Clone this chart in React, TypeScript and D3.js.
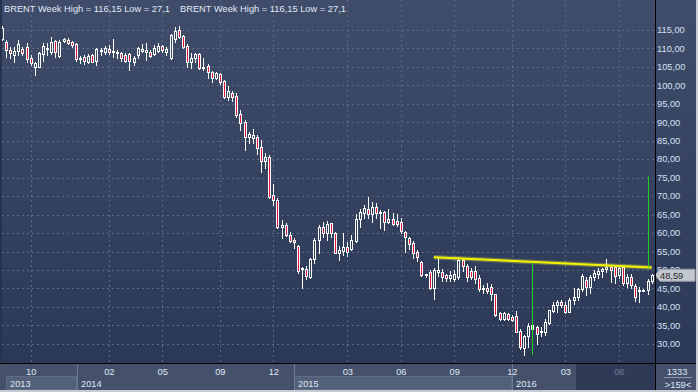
import React, { useEffect, useRef } from "react";
import * as d3 from "d3";

const W = 698;
const H = 392;

// weekly BRENT candles, oldest first (the first one is clipped at the left edge)
const opens = [
  112.5, 111.6, 109.5, 108.2, 109.3, 109.8, 110.4, 107.3, 105.0, 105.0,
  108.4, 109.8, 108.9, 112.0, 107.9, 112.0, 112.2, 111.6, 111.1, 107.0,
  107.7, 106.4, 108.2, 106.6, 109.3, 109.1, 109.8, 108.9, 108.6, 108.6,
  108.2, 108.4, 106.2, 108.2, 109.3, 109.5, 109.1, 108.4, 109.3, 110.5,
  109.1, 107.3, 112.5, 114.9, 113.3, 110.7, 106.4, 107.3, 108.4, 104.6,
  105.3, 103.5, 102.0, 103.0, 101.1, 96.9, 98.0, 97.1, 92.1, 90.1,
  86.1, 85.8, 86.1, 83.4, 79.6, 80.5, 70.3, 68.9, 61.5, 62.2,
  59.6, 58.1, 56.5, 50.2, 50.3, 48.2, 53.0, 58.0, 61.7, 60.1,
  62.6, 60.0, 54.5, 55.2, 56.2, 55.6, 57.9, 63.7, 65.5, 66.4,
  65.2, 67.0, 65.5, 65.6, 63.1, 63.7, 63.3, 63.0, 60.3, 58.7,
  57.3, 55.0, 52.1, 48.6, 49.5, 45.2, 49.5, 49.5, 48.6, 47.7,
  47.6, 48.2, 52.7, 51.1, 49.8, 49.8, 47.7, 44.9, 45.1, 45.3,
  43.4, 38.3, 36.7, 38.1, 37.4, 37.6, 33.6, 28.8, 32.1, 34.1,
  34.5, 33.2, 33.1, 35.6, 39.0, 40.5, 41.4, 40.5, 38.7, 41.9,
  42.6, 44.8, 47.3, 45.5, 48.2, 49.0, 49.7, 50.2, 50.9, 50.7,
  48.6, 50.9, 46.4, 48.2, 45.8, 44.2, 44.4, 44.5, 47.0,
];
const highs = [
  116.1, 112.2, 110.4, 110.4, 112.2, 110.4, 111.3, 108.2, 106.4, 109.1,
  111.3, 111.3, 113.1, 112.2, 112.2, 112.9, 112.7, 112.0, 111.3, 108.0,
  108.2, 108.4, 108.5, 110.0, 110.0, 110.6, 110.9, 112.5, 109.4, 109.1,
  108.6, 108.6, 107.9, 110.4, 111.1, 111.3, 109.5, 110.9, 111.3, 110.9,
  110.4, 113.8, 115.8, 116.15, 113.6, 111.1, 108.6, 108.6, 108.6, 107.3,
  105.7, 103.8, 103.7, 103.4, 101.4, 99.8, 98.4, 97.8, 93.3, 90.6,
  87.4, 88.2, 86.5, 85.2, 81.6, 81.1, 73.2, 69.4, 63.5, 62.6,
  60.4, 58.6, 56.8, 50.9, 51.0, 53.3, 58.6, 62.2, 63.1, 63.3,
  62.8, 60.4, 56.5, 60.0, 57.7, 59.5, 65.1, 66.6, 67.6, 69.7,
  68.5, 68.0, 66.2, 65.9, 66.5, 65.5, 65.1, 64.0, 60.5, 59.0,
  57.9, 55.4, 52.3, 49.0, 50.0, 50.5, 53.6, 50.2, 49.0, 49.6,
  50.0, 53.5, 53.0, 51.5, 50.5, 51.0, 48.6, 46.0, 46.6, 46.3,
  43.6, 38.7, 38.7, 38.4, 37.8, 39.0, 33.9, 32.5, 35.6, 35.7,
  34.8, 34.7, 36.8, 39.3, 41.3, 42.0, 41.8, 41.4, 42.5, 45.0,
  45.1, 48.9, 48.2, 48.6, 50.0, 50.5, 50.6, 53.0, 51.1, 51.0,
  51.1, 51.1, 48.8, 48.8, 46.2, 45.3, 44.8, 47.5, 49.0,
];
const lows = [
  112.3, 107.6, 107.3, 106.4, 108.2, 108.2, 106.4, 105.5, 102.8, 104.8,
  106.6, 108.2, 108.4, 107.7, 107.7, 111.6, 111.1, 110.4, 106.6, 105.9,
  105.7, 105.9, 106.2, 105.5, 108.2, 108.4, 108.5, 107.7, 107.3, 106.6,
  106.4, 104.1, 105.5, 107.3, 108.9, 106.8, 107.7, 108.2, 108.9, 108.9,
  108.2, 107.1, 111.8, 112.7, 110.0, 105.0, 104.6, 106.4, 104.4, 104.1,
  101.9, 101.0, 101.7, 100.2, 96.6, 96.0, 95.6, 91.5, 87.9, 82.5,
  84.3, 84.3, 81.3, 76.6, 77.5, 69.6, 67.6, 61.3, 58.6, 59.3,
  57.5, 55.9, 49.1, 45.2, 47.5, 47.7, 51.8, 54.5, 59.0, 58.1,
  59.0, 54.5, 52.7, 54.1, 53.9, 55.4, 57.5, 61.5, 64.0, 64.0,
  63.1, 64.0, 61.3, 60.8, 62.6, 62.1, 61.8, 59.9, 55.0, 55.8,
  53.2, 52.3, 48.3, 48.2, 44.9, 42.2, 48.3, 46.9, 46.9, 47.0,
  47.0, 47.6, 49.8, 46.9, 47.6, 46.4, 44.4, 43.7, 43.7, 42.0,
  37.6, 36.5, 36.4, 36.4, 36.2, 33.1, 28.6, 27.1, 29.2, 31.4,
  30.0, 32.1, 32.5, 35.4, 38.7, 38.5, 40.0, 38.3, 38.7, 40.7,
  41.9, 44.2, 43.1, 43.7, 47.3, 47.8, 48.2, 49.5, 46.8, 46.6,
  47.7, 46.0, 45.5, 45.1, 41.6, 41.4, 44.2, 43.5, 46.5,
];
const closes = [
  115.5, 109.5, 108.6, 109.3, 111.1, 108.6, 107.0, 105.9, 105.9, 108.6,
  110.6, 110.2, 111.8, 109.1, 111.8, 112.5, 111.3, 110.9, 107.0, 107.5,
  106.6, 107.9, 106.4, 109.8, 109.5, 110.0, 109.1, 109.3, 109.1, 107.3,
  106.6, 106.6, 107.5, 110.0, 109.8, 108.9, 108.0, 110.0, 110.7, 109.5,
  109.8, 113.6, 114.8, 113.1, 110.4, 106.4, 107.5, 108.4, 104.6, 105.0,
  103.5, 102.0, 103.2, 101.0, 96.9, 98.4, 96.9, 91.9, 89.9, 86.1,
  86.7, 86.4, 83.1, 79.6, 80.5, 69.8, 68.9, 61.5, 62.2, 59.5,
  57.8, 57.5, 49.8, 50.6, 48.5, 53.0, 58.2, 61.7, 60.1, 62.5,
  59.9, 54.7, 55.4, 56.2, 55.0, 58.1, 63.7, 65.8, 66.8, 65.2,
  67.1, 65.5, 65.7, 63.1, 63.7, 62.5, 62.5, 60.6, 58.8, 57.0,
  54.5, 53.4, 48.6, 48.9, 45.2, 50.0, 50.0, 48.2, 47.7, 48.7,
  48.9, 52.7, 51.1, 48.2, 48.2, 47.5, 44.8, 45.0, 44.4, 43.5,
  37.8, 36.7, 38.3, 36.7, 36.5, 33.3, 29.1, 32.1, 34.9, 35.0,
  32.8, 33.5, 35.8, 39.2, 40.5, 41.4, 40.5, 38.7, 41.9, 42.8,
  44.8, 48.4, 45.5, 48.2, 49.1, 49.7, 50.2, 50.7, 50.0, 48.4,
  50.6, 46.4, 48.2, 46.0, 42.6, 44.7, 44.6, 47.1, 48.59,
];

const priceTicks = d3.range(30, 116, 5);
// month ticks, as candle index
const monthTicks = [7, 26, 39, 53, 66, 84, 97, 110, 124, 137, 150];
const monthLabels = ["10", "02", "05", "09", "12", "03", "06", "09", "12", "03", "06"];
// where each year starts (candle index)
const yearStarts = [1, 18.2, 71, 123.95];
const yearLabels = ["2013", "2014", "2015", "2016"];
const lastPrice = 48.59;
const legendText = "BRENT Week High = 116,15 Low = 27,1";
// drawn tools: resistance line and two vertical markers
const trendIdx = [105, 158];
const trendPrice = [53.45, 50.7];
const markerIdx = [129, 157];
const markerTop = [51.9, 75.4];
const markerBottom = [27.0, 50.75];

const fmt = (v: number) => v.toFixed(2).replace(".", ",");
const FONT = "'Liberation Sans', Arial, sans-serif";

export default function App() {
  const svgRef = useRef<SVGSVGElement>(null);

  useEffect(() => {
    const svgEl = d3.select(svgRef.current);
    svgEl.selectAll("*").remove();

    const plotL = 2, plotR = 655, plotT = 0, plotB = 363;
    const x = d3.scaleLinear().domain([0, 158]).range([1.9, 651.7]);
    const y = d3.scaleLinear().domain([30, 115]).range([343.9, 29.8]);
    const px = (v: number) => Math.round(v) + 0.5;

    const defs = svgEl.append("defs");
    const grad = defs.append("linearGradient").attr("id", "bg")
      .attr("x1", 0).attr("y1", 0).attr("x2", 0).attr("y2", 1);
    grad.append("stop").attr("offset", "0%").attr("stop-color", "#404d6a");
    grad.append("stop").attr("offset", "100%").attr("stop-color", "#2b3856");
    defs.append("clipPath").attr("id", "plotclip")
      .append("rect").attr("x", plotL).attr("y", plotT)
      .attr("width", plotR - plotL).attr("height", plotB - plotT);

    // backgrounds
    svgEl.append("rect").attr("width", W).attr("height", H).attr("fill", "#3a4662");
    svgEl.append("rect").attr("x", 0).attr("y", 0).attr("width", 696).attr("height", plotB)
      .attr("fill", "url(#bg)");
    svgEl.append("rect").attr("x", 0).attr("y", 0).attr("width", plotL).attr("height", plotB)
      .attr("fill", "#27324c");

    const plot = svgEl.append("g").attr("clip-path", "url(#plotclip)");

    // grid
    plot.selectAll(".hgrid").data(priceTicks).enter().append("line")
      .attr("x1", plotL).attr("x2", plotR)
      .attr("y1", (d) => px(y(d))).attr("y2", (d) => px(y(d)))
      .attr("stroke", "#5b6886").attr("stroke-dasharray", "2,3");
    plot.selectAll(".vgrid").data(monthTicks).enter().append("line")
      .attr("x1", (d) => px(x(d))).attr("x2", (d) => px(x(d)))
      .attr("y1", plotT).attr("y2", plotB)
      .attr("stroke", "#5b6886").attr("stroke-dasharray", "2,3");

    // legend
    [4, 180].forEach((lx) => {
      svgEl.append("text").attr("x", lx).attr("y", 12)
        .attr("font-family", FONT).attr("font-size", 9.3)
        .attr("fill", "#e2e9f6").text(legendText);
    });

    // candles
    const idx = d3.range(opens.length);
    const candle = plot.selectAll(".candle").data(idx).enter().append("g");
    candle.each(function (i) {
      const g = d3.select(this);
      const cx = Math.round(x(i));
      const o = opens[i], c = closes[i];
      const top = Math.round(y(Math.max(o, c)));
      let bot = Math.round(y(Math.min(o, c)));
      if (bot - top < 1) bot = top + 1;
      const hi = Math.round(y(highs[i]));
      const lo = Math.round(y(lows[i]));
      if (hi < top) g.append("line").attr("x1", cx + 0.5).attr("x2", cx + 0.5)
        .attr("y1", hi).attr("y2", top).attr("stroke", "#ffffff");
      if (lo > bot) g.append("line").attr("x1", cx + 0.5).attr("x2", cx + 0.5)
        .attr("y1", bot + 1).attr("y2", lo + 1).attr("stroke", "#ffffff");
      g.append("rect")
        .attr("x", cx - 0.5).attr("y", top + 0.5)
        .attr("width", 2).attr("height", bot - top)
        .attr("fill", c < o ? "#dc143c" : "none")
        .attr("stroke", "#ffffff");
    });

    // resistance line with soft glow
    const trend = d3.line<number>().x((d, i) => x(trendIdx[i])).y((d) => y(d));
    plot.append("path").attr("d", trend(trendPrice)).attr("fill", "none")
      .attr("stroke", "#d8e040").attr("stroke-opacity", 0.35).attr("stroke-width", 4.5);
    plot.append("path").attr("d", trend(trendPrice)).attr("fill", "none")
      .attr("stroke", "#f4f400").attr("stroke-width", 2);

    // vertical markers
    markerIdx.forEach((m, i) => {
      plot.append("line")
        .attr("x1", px(x(m))).attr("x2", px(x(m)))
        .attr("y1", y(markerTop[i])).attr("y2", y(markerBottom[i]))
        .attr("stroke", "#1fd01f").attr("stroke-width", 1);
    });

    // right price axis
    svgEl.selectAll(".ylab").data(priceTicks).enter().append("text")
      .attr("x", 657).attr("y", (d) => y(d)).attr("dy", "0.36em")
      .attr("font-family", FONT).attr("font-size", 9.3)
      .attr("fill", "#d4e0f4").text((d) => fmt(d));

    // last price tag
    const ty = y(lastPrice);
    svgEl.append("path")
      .attr("d", `M655,${ty} L660,${ty - 6} L695,${ty - 6} L695,${ty + 6} L660,${ty + 6} Z`)
      .attr("fill", "#c3c7cf").attr("stroke", "#9aa0aa");
    svgEl.append("text").attr("x", 660).attr("y", ty).attr("dy", "0.36em")
      .attr("font-family", FONT).attr("font-size", 9.3)
      .attr("fill", "#2a2a2a").text(fmt(lastPrice));

    // bottom time axis
    const ax = svgEl.append("g");
    ax.append("rect").attr("x", 0).attr("y", plotB).attr("width", 696).attr("height", H - plotB)
      .attr("fill", "#45516b");
    yearStarts.forEach((s, i) => {
      const x0 = x(s);
      const x1 = i + 1 < yearStarts.length ? x(yearStarts[i + 1]) : x(139.6);
      if (i % 2 === 0) {
        ax.append("rect").attr("x", Math.round(x0) + 0.5).attr("y", 376.5)
          .attr("width", Math.round(x1 - x0) - 1).attr("height", 13)
          .attr("fill", "#53607a").attr("stroke", "#5f6c86");
      }
      if (i > 0) {
        ax.append("line").attr("x1", px(x0)).attr("x2", px(x0))
          .attr("y1", plotB).attr("y2", 390).attr("stroke", "#6d7a93");
      }
      ax.append("text").attr("x", Math.round(x0) + 4).attr("y", 386.5)
        .attr("font-family", FONT).attr("font-size", 9.3)
        .attr("fill", "#dfe7f5").text(yearLabels[i]);
    });
    // shaded region at the end of the time axis
    ax.append("rect").attr("x", x(139.6)).attr("y", plotB + 1)
      .attr("width", plotR - x(139.6)).attr("height", 390 - plotB - 1)
      .attr("fill", "#2f3b56");
    ax.selectAll(".mlab").data(monthTicks).enter().append("text")
      .attr("x", (d) => x(d) + 0.5).attr("y", 375).attr("text-anchor", "middle")
      .attr("font-family", FONT).attr("font-size", 9.3)
      .attr("fill", (d) => (d > 139.6 ? "#6e7a93" : "#dfe7f5"))
      .text((d, i) => monthLabels[i]);

    // corner box
    svgEl.append("text").attr("x", 677).attr("y", 375).attr("text-anchor", "middle")
      .attr("font-family", FONT).attr("font-size", 9.3).attr("fill", "#dfe7f5").text("1333");
    svgEl.append("line").attr("x1", 664).attr("x2", 692).attr("y1", 377.5).attr("y2", 377.5)
      .attr("stroke", "#8a96ad");
    svgEl.append("text").attr("x", 678).attr("y", 388).attr("text-anchor", "middle")
      .attr("font-family", FONT).attr("font-size", 9.3).attr("fill", "#dfe7f5").text(">159<");

    // frame lines
    svgEl.append("line").attr("x1", 0).attr("x2", 696).attr("y1", plotB + 0.5).attr("y2", plotB + 0.5)
      .attr("stroke", "#000000");
    svgEl.append("line").attr("x1", plotR + 0.5).attr("x2", plotR + 0.5).attr("y1", 0).attr("y2", 390)
      .attr("stroke", "#000000");
    svgEl.append("rect").attr("x", 696).attr("y", 0).attr("width", 2).attr("height", H).attr("fill", "#c7cbd3");
    svgEl.append("rect").attr("x", 0).attr("y", 390).attr("width", W).attr("height", 2).attr("fill", "#c7cbd3");
  }, []);

  return (
    <svg
      ref={svgRef}
      width={W}
      height={H}
      style={{ position: "absolute", left: 0, top: 0, display: "block" }}
    />
  );
}
